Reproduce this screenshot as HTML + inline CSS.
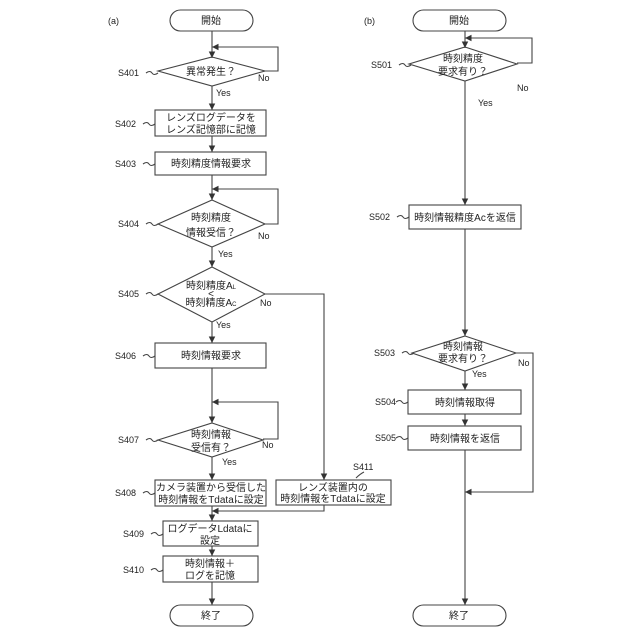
<!DOCTYPE html>
<html><head><meta charset="utf-8"><style>body{margin:0;background:#fff}svg{display:block}</style></head><body>
<svg width="640" height="640" viewBox="0 0 640 640" xmlns="http://www.w3.org/2000/svg" font-family="'Liberation Sans','Noto Sans CJK JP',sans-serif" font-size="10" fill="#222">
<defs><marker id="a" viewBox="0 0 10 10" refX="10" refY="5" markerWidth="6" markerHeight="6" orient="auto"><path d="M0,0L10,5L0,10z" fill="#333"/></marker></defs>
<g stroke="#444" stroke-width="1.1" fill="none">
<!-- left -->
<rect x="170" y="10" width="83" height="21" rx="10.5"/>
<line x1="212" y1="31" x2="212" y2="58" marker-end="url(#a)"/>
<polyline points="265,71 278,71 278,47 212,47" marker-end="url(#a)"/>
<polygon points="212,57 265,71 212,86 158,71"/>
<line x1="212" y1="86" x2="212" y2="110" marker-end="url(#a)"/>
<rect x="155" y="110" width="111" height="26"/>
<line x1="212" y1="136" x2="212" y2="152" marker-end="url(#a)"/>
<rect x="155" y="152" width="111" height="23"/>
<line x1="212" y1="175" x2="212" y2="200" marker-end="url(#a)"/>
<polyline points="265,224 278,224 278,189 212,189" marker-end="url(#a)"/>
<polygon points="212,200 265,224 212,247 158,224"/>
<line x1="212" y1="247" x2="212" y2="267" marker-end="url(#a)"/>
<polygon points="212,267 265,294 212,322 158,294"/>
<polyline points="265,294 324,294 324,480" marker-end="url(#a)"/>
<line x1="212" y1="322" x2="212" y2="343" marker-end="url(#a)"/>
<rect x="155" y="343" width="111" height="25"/>
<line x1="212" y1="368" x2="212" y2="423" marker-end="url(#a)"/>
<polyline points="263,439 278,439 278,402 212,402" marker-end="url(#a)"/>
<polygon points="212,423 263,440 212,457 158,440"/>
<line x1="212" y1="457" x2="212" y2="480" marker-end="url(#a)"/>
<rect x="155" y="480" width="111" height="26"/>
<rect x="276" y="480" width="115" height="25"/>
<polyline points="324,505 324,511 212,511" marker-end="url(#a)"/>
<line x1="212" y1="506" x2="212" y2="521" marker-end="url(#a)"/>
<rect x="163" y="521" width="95" height="25"/>
<line x1="212" y1="546" x2="212" y2="556" marker-end="url(#a)"/>
<rect x="163" y="556" width="95" height="26"/>
<line x1="212" y1="582" x2="212" y2="605" marker-end="url(#a)"/>
<rect x="170" y="605" width="83" height="21" rx="10.5"/>
<!-- right -->
<rect x="413" y="10" width="93" height="21" rx="10.5"/>
<line x1="465" y1="31" x2="465" y2="48" marker-end="url(#a)"/>
<polyline points="517,63 532,63 532,38 465,38" marker-end="url(#a)"/>
<polygon points="465,47 517,64 465,81 409,64"/>
<line x1="465" y1="81" x2="465" y2="205" marker-end="url(#a)"/>
<rect x="409" y="205" width="112" height="24"/>
<line x1="465" y1="229" x2="465" y2="336" marker-end="url(#a)"/>
<polygon points="465,336 516,353 465,371 412,353"/>
<polyline points="516,353 533,353 533,492 465,492" marker-end="url(#a)"/>
<line x1="465" y1="371" x2="465" y2="390" marker-end="url(#a)"/>
<rect x="408" y="390" width="113" height="24"/>
<line x1="465" y1="414" x2="465" y2="426" marker-end="url(#a)"/>
<rect x="408" y="426" width="113" height="24"/>
<line x1="465" y1="450" x2="465" y2="605" marker-end="url(#a)"/>
<rect x="413" y="605" width="93" height="21" rx="10.5"/>
<!-- tildes -->
<path d="M146,73q4,-3 6,0t6,0M143,124q4,-3 6,0t6,0M143,164q4,-3 6,0t6,0M146,224q4,-3 6,0t6,0M146,294q4,-3 6,0t6,0M143,356q4,-3 6,0t6,0M146,440q4,-3 6,0t6,0M143,493q4,-3 6,0t6,0M151,534q4,-3 6,0t6,0M151,570q4,-3 6,0t6,0M356,478q4,-4 8,-6"/>
<path d="M399,65q4,-3 6,0t6,0M397,217q4,-3 6,0t6,0M402,353q4,-3 6,0t6,0M396,402q4,-3 6,0t6,0M396,438q4,-3 6,0t6,0"/>
</g>
<g text-anchor="middle">
<text x="211" y="24">開始</text><text x="459" y="24">開始</text>
<text x="211" y="75">異常発生？</text>
<text x="211" y="121">レンズログデータを</text><text x="211" y="133">レンズ記憶部に記憶</text>
<text x="211" y="167">時刻精度情報要求</text>
<text x="211" y="221">時刻精度</text><text x="211" y="236">情報受信？</text>
<text x="211" y="289">時刻精度A<tspan font-size="6">L</tspan></text><text x="211" y="297">&lt;</text><text x="211" y="306">時刻精度A<tspan font-size="6">C</tspan></text>
<text x="211" y="359">時刻情報要求</text>
<text x="211" y="438">時刻情報</text><text x="211" y="451">受信有？</text>
<text x="211" y="491">カメラ装置から受信した</text><text x="211" y="503">時刻情報をTdataに設定</text>
<text x="333" y="491">レンズ装置内の</text><text x="333" y="502">時刻情報をTdataに設定</text>
<text x="210" y="532">ログデータLdataに</text><text x="210" y="544">設定</text>
<text x="210" y="567">時刻情報＋</text><text x="210" y="579">ログを記憶</text>
<text x="211" y="619">終了</text><text x="459" y="619">終了</text>
<text x="463" y="62">時刻精度</text><text x="463" y="75">要求有り？</text>
<text x="465" y="221">時刻情報精度Acを返信</text>
<text x="463" y="350">時刻情報</text><text x="463" y="362">要求有り？</text>
<text x="465" y="406">時刻情報取得</text>
<text x="465" y="442">時刻情報を返信</text>
</g>
<g font-size="9">
<text x="108" y="24">(a)</text><text x="364" y="24">(b)</text>
<text x="118" y="76">S401</text><text x="115" y="127">S402</text><text x="115" y="167">S403</text><text x="118" y="227">S404</text><text x="118" y="297">S405</text><text x="115" y="359">S406</text><text x="118" y="443">S407</text><text x="115" y="496">S408</text><text x="123" y="537">S409</text><text x="123" y="573">S410</text><text x="353" y="470">S411</text>
<text x="371" y="68">S501</text><text x="369" y="220">S502</text><text x="374" y="356">S503</text><text x="375" y="405">S504</text><text x="375" y="441">S505</text>
<text x="258" y="81">No</text><text x="258" y="239">No</text><text x="260" y="306">No</text><text x="262" y="448">No</text><text x="517" y="91">No</text><text x="518" y="366">No</text>
<text x="216" y="96">Yes</text><text x="218" y="257">Yes</text><text x="216" y="328">Yes</text><text x="222" y="465">Yes</text><text x="478" y="106">Yes</text><text x="472" y="377">Yes</text>
</g>
</svg>
</body></html>
